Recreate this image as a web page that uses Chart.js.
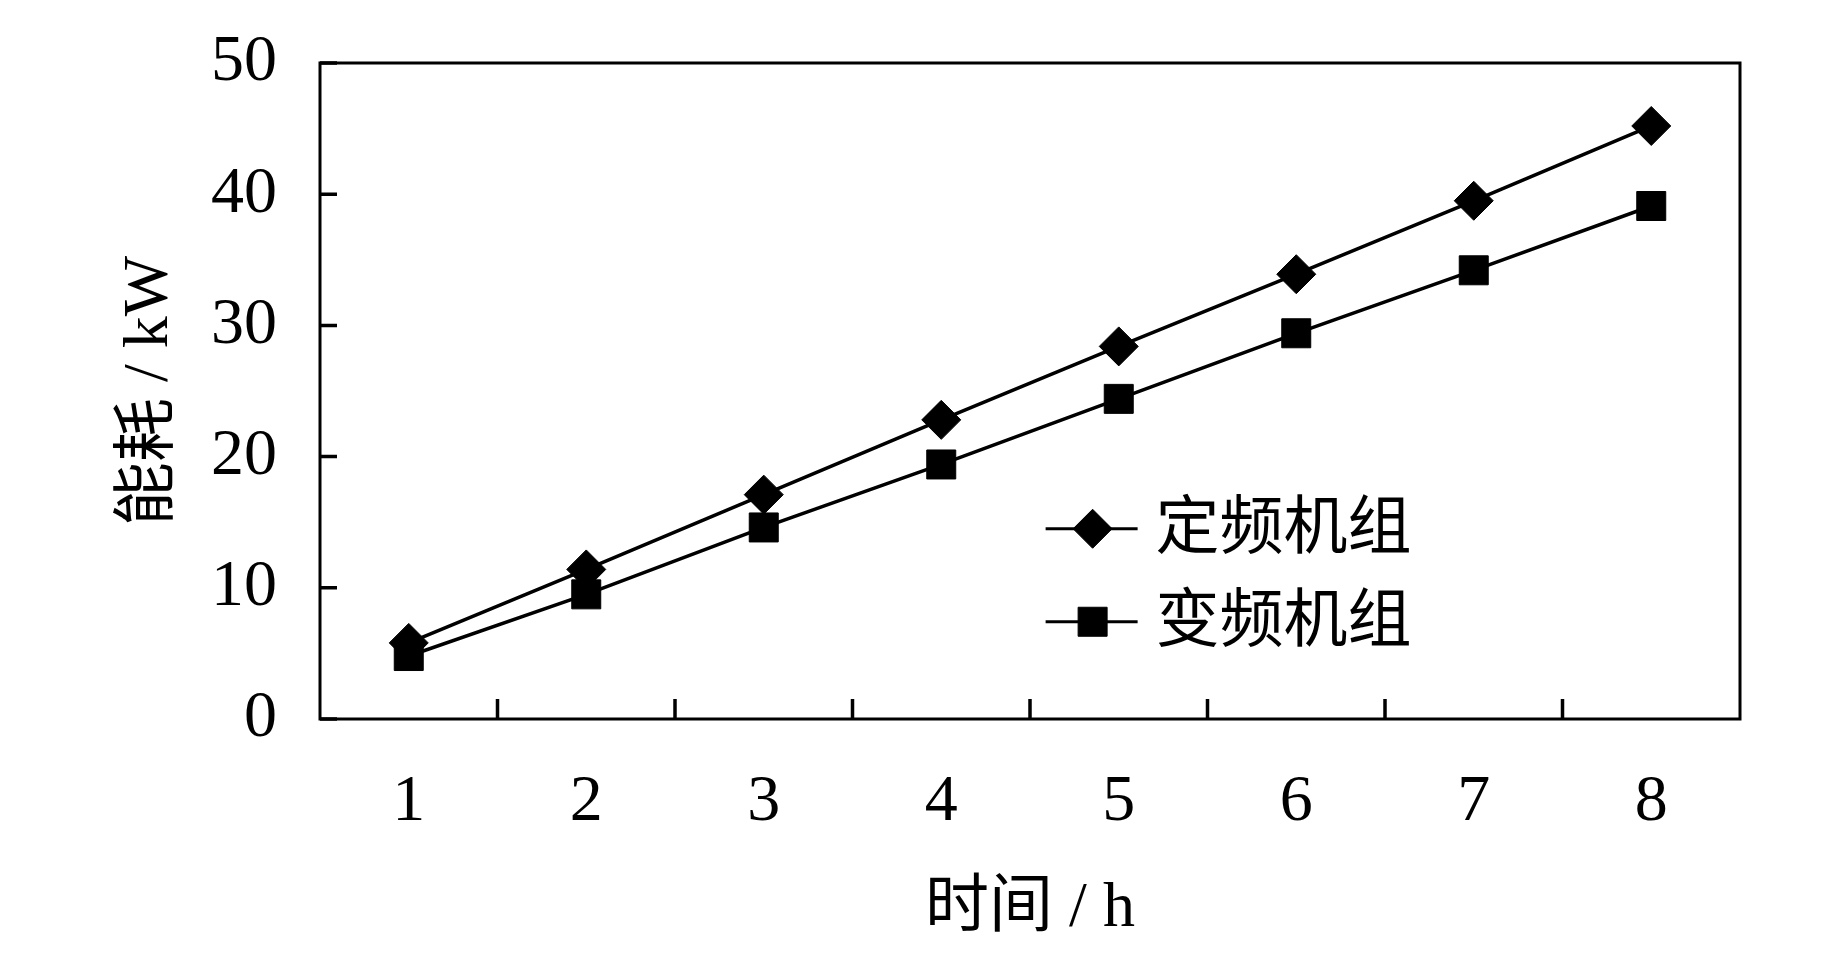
<!DOCTYPE html>
<html>
<head>
<meta charset="utf-8">
<script src="https://cdn.jsdelivr.net/npm/chart.js@4/dist/chart.umd.min.js"></script>
<style>
  html, body { margin: 0; padding: 0; background: #fff; }
  #wrap { width: 1843px; height: 969px; }
</style>
</head>
<body>
<div id="wrap"><canvas id="grafico"></canvas></div>
<script>
const horas = ['1', '2', '3', '4', '5', '6', '7', '8'];
const fixo = [5.8, 11.4, 17.1, 22.8, 28.4, 33.9, 39.5, 45.2];
const variavel = [4.8, 9.5, 14.6, 19.4, 24.4, 29.4, 34.2, 39.1];
const nomes = ['定频机组', '变频机组'];
const yTicks = [0, 10, 20, 30, 40, 50];

const FONT = '"Liberation Serif", "Noto Sans CJK SC", serif';

function drawMarker(ctx, style, cx, cy, r) {
    ctx.beginPath();
    if (style === 'rectRot') {
        ctx.moveTo(cx - r, cy);
        ctx.lineTo(cx, cy - r);
        ctx.lineTo(cx + r, cy);
        ctx.lineTo(cx, cy + r);
        ctx.closePath();
    } else {
        const s = r * Math.SQRT1_2;
        ctx.rect(cx - s, cy - s, 2 * s, 2 * s);
    }
    ctx.fill();
    ctx.stroke();
}

// frame round the plot plus the inward tick marks
const moldura = {
    id: 'moldura',
    beforeDatasetsDraw(chart) {
        const { ctx, chartArea: a, scales: { x, y } } = chart;
        ctx.save();
        ctx.strokeStyle = '#000';
        ctx.lineWidth = 3;
        ctx.strokeRect(a.left, a.top, a.right - a.left, a.bottom - a.top);
        ctx.lineWidth = 3.5;
        ctx.beginPath();
        y.ticks.forEach((t, i) => {
            const py = y.getPixelForTick(i);
            ctx.moveTo(a.left, py);
            ctx.lineTo(a.left + 17, py);
        });
        for (let i = 1; i < x.ticks.length; i++) {
            const px = (x.getPixelForTick(i - 1) + x.getPixelForTick(i)) / 2;
            ctx.moveTo(px, a.bottom);
            ctx.lineTo(px, a.bottom - 20);
        }
        ctx.stroke();
        ctx.restore();
    }
};

// legend inside the plot, line + marker + label
const legenda = {
    id: 'legenda',
    afterDraw(chart) {
        const { ctx, chartArea: a } = chart;
        const x0 = a.left + 0.511 * (a.right - a.left);
        let yRow = a.top + 0.71 * (a.bottom - a.top);
        chart.data.datasets.forEach(ds => {
            ctx.save();
            ctx.strokeStyle = '#000';
            ctx.fillStyle = '#000';
            ctx.lineWidth = 3;
            ctx.beginPath();
            ctx.moveTo(x0, yRow);
            ctx.lineTo(x0 + 92, yRow);
            ctx.stroke();
            ctx.lineWidth = 1;
            drawMarker(ctx, ds.pointStyle, x0 + 47, yRow, ds.pointRadius);
            ctx.font = '64px ' + FONT;
            ctx.textBaseline = 'middle';
            ctx.textAlign = 'left';
            ctx.fillText(ds.label, x0 + 110, yRow + 2);
            ctx.restore();
            yRow += 93;
        });
    }
};

const ctx = document.getElementById('grafico').getContext('2d');

new Chart(ctx, {
    type: 'line',
    data: {
        labels: horas,
        datasets: [{
            label: nomes[0],
            data: fixo,
            borderColor: '#000',
            borderWidth: 3.5,
            pointStyle: 'rectRot',
            pointRadius: 19.5,
            pointBorderWidth: 1,
            pointBackgroundColor: '#000',
            pointBorderColor: '#000',
            tension: 0,
            fill: false
        }, {
            label: nomes[1],
            data: variavel,
            borderColor: '#000',
            borderWidth: 3.5,
            pointStyle: 'rect',
            pointRadius: 20.5,
            pointBorderWidth: 1,
            pointBackgroundColor: '#000',
            pointBorderColor: '#000',
            tension: 0,
            fill: false
        }]
    },
    options: {
        responsive: true,
        maintainAspectRatio: false,
        animation: false,
        layout: {
            padding: { top: 63, right: 103, left: 0, bottom: 0 }
        },
        plugins: {
            legend: { display: false },
            tooltip: { enabled: false }
        },
        scales: {
            x: {
                offset: true,
                grid: { display: false, drawTicks: false },
                border: { display: false },
                ticks: {
                    color: '#000',
                    padding: 44,
                    font: { family: FONT, size: 66 }
                },
                title: {
                    display: true,
                    text: '时间 / h',
                    color: '#000',
                    font: { family: FONT, size: 64 },
                    padding: { top: 0, bottom: 21 }
                },
                afterFit(scale) {
                    scale.height = 250;
                    scale.paddingLeft = 0;
                    scale.paddingRight = 0;
                }
            },
            y: {
                min: 0,
                max: 50,
                grid: { display: false, drawTicks: false },
                border: { display: false },
                afterBuildTicks(scale) {
                    scale.ticks = yTicks.map(v => ({ value: v }));
                },
                ticks: {
                    color: '#000',
                    padding: 43,
                    font: { family: FONT, size: 66 }
                },
                title: {
                    display: true,
                    text: '能耗 / kW',
                    color: '#000',
                    font: { family: FONT, size: 64 },
                    padding: { top: 112, bottom: 0 }
                },
                afterFit(scale) {
                    scale.width = 320;
                    scale.paddingTop = 0;
                    scale.paddingBottom = 0;
                }
            }
        }
    },
    plugins: [moldura, legenda]
});
</script>
</body>
</html>
